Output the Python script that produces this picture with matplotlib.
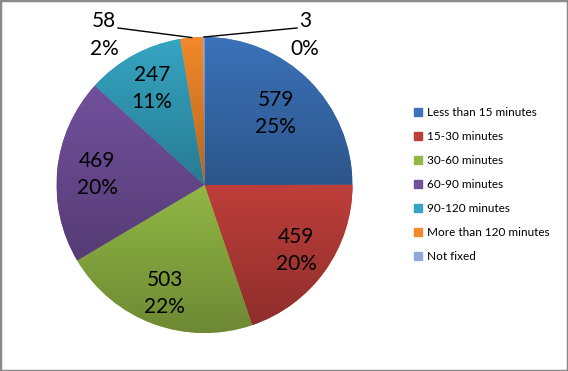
import numpy as np
import matplotlib.pyplot as plt
from matplotlib.colors import to_rgb
from matplotlib.patches import Rectangle

plt.rcParams['font.family'] = ['Lato', 'DejaVu Sans']

# data
categories = ['Less than 15 minutes', '15-30 minutes', '30-60 minutes', '60-90 minutes',
              '90-120 minutes', 'More than 120 minutes', 'Not fixed']
counts = [579, 459, 503, 469, 247, 58, 3]
pct_labels = ['25%', '20%', '22%', '20%', '11%', '2%', '0%']
colors = ['#3B72B9', '#BE3E3A', '#91B745', '#72509C', '#35A4C2', '#F2892A', '#8EA9DA']

W, H = 568, 371
fig = plt.figure(figsize=(W / 100, H / 100), dpi=100)
ax = fig.add_axes([0, 0, 1, 1])

cx, cy, R = 204.5, H - 185, 148
wedges, _ = ax.pie(counts, colors=colors, startangle=90, counterclock=False,
                   center=(cx, cy), radius=R, frame=True,
                   wedgeprops=dict(linewidth=0))

# vertical gradient inside each slice (light top, dark bottom)
for w, c in zip(wedges, colors):
    bb = w.get_path().get_extents(w.get_patch_transform())
    top = np.array(to_rgb(c))
    bot = top * 0.75
    t = np.linspace(0, 1, 64)[:, None]
    img = (bot * (1 - t) + top * t)[:, None, :]
    im = ax.imshow(img, extent=(bb.x0, bb.x1, bb.y0, bb.y1), origin='lower',
                   aspect='auto', zorder=w.get_zorder() + 0.1, interpolation='bilinear')
    im.set_clip_path(w)
ax.set_xlim(0, W)
ax.set_ylim(0, H)
ax.axis('off')

# inside labels
label_r = [0.68, 0.76, 0.78, 0.73, 0.74]
for i, w in enumerate(wedges[:5]):
    ang = np.deg2rad((w.theta1 + w.theta2) / 2)
    x = cx + R * label_r[i] * np.cos(ang)
    y = cy + R * label_r[i] * np.sin(ang)
    ax.text(x, y, f'{counts[i]}\n{pct_labels[i]}', ha='center', va='center',
            fontsize=15, linespacing=1.45, zorder=5)

# outside labels with leader lines
out_pos = [(104, H - 35), (305, H - 35)]
line_end = [(118, H - 28), (297, H - 28)]
for k, i in enumerate([5, 6]):
    w = wedges[i]
    ang = np.deg2rad((w.theta1 + w.theta2) / 2)
    ex, ey = cx + R * np.cos(ang), cy + R * np.sin(ang)
    ax.plot([ex, line_end[k][0]], [ey, line_end[k][1]], color='black', lw=1, zorder=4)
    ax.text(out_pos[k][0], out_pos[k][1], f'{counts[i]}\n{pct_labels[i]}', ha='center',
            va='center', fontsize=15, linespacing=1.45, zorder=5)

handles = [Rectangle((0, 0), 1, 1, color=c) for c in colors]
leg = ax.legend(handles, categories, loc='upper left', bbox_to_anchor=(414 / W, 1 - 107 / H),
                bbox_transform=fig.transFigure, frameon=False, fontsize=8.5,
                handlelength=0.65, handleheight=0.65, handletextpad=0.45, labelspacing=1.1,
                borderaxespad=0, borderpad=0)

fig.add_artist(Rectangle((0, 0), 1, 1, transform=fig.transFigure, fill=False,
                         ec='#8a8a8a', lw=2.5))
fig.savefig('out.png', dpi=100)
